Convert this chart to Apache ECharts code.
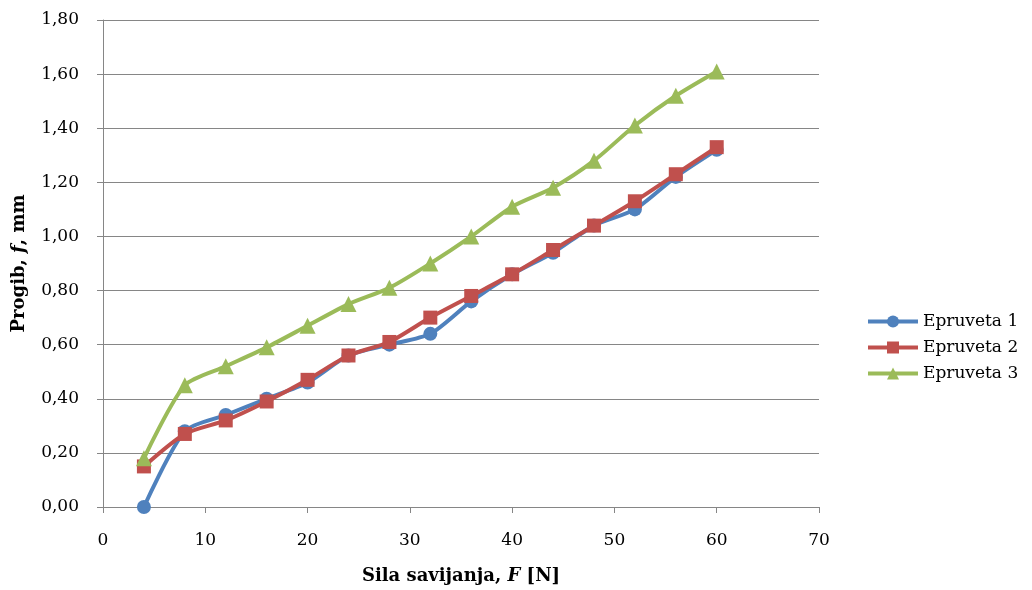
<!DOCTYPE html>
<html><head><meta charset="utf-8">
<script src="https://cdn.jsdelivr.net/npm/echarts@6/dist/echarts.min.js"></script>
<style>html,body{margin:0;padding:0;background:#fff}#c{width:1032px;height:590px}</style>
</head><body><div id="c"></div>
<script>
const force = [4, 8, 12, 16, 20, 24, 28, 32, 36, 40, 44, 48, 52, 56, 60];
const epruveta1 = [0.00, 0.28, 0.34, 0.40, 0.46, 0.56, 0.60, 0.64, 0.76, 0.86, 0.94, 1.04, 1.10, 1.22, 1.32];
const epruveta2 = [0.15, 0.27, 0.32, 0.39, 0.47, 0.56, 0.61, 0.70, 0.78, 0.86, 0.95, 1.04, 1.13, 1.23, 1.33];
const epruveta3 = [0.18, 0.45, 0.52, 0.59, 0.67, 0.75, 0.81, 0.90, 1.00, 1.11, 1.18, 1.28, 1.41, 1.52, 1.61];
const seriesNames = ['Epruveta 1', 'Epruveta 2', 'Epruveta 3'];

const FONT = '"DejaVu Serif", "Liberation Serif", serif';
const pair = arr => force.map((f, i) => [f, arr[i]]);
const colors = ['#4F81BD', '#C0504D', '#9BBB59'];
const symbols = ['circle', 'rect', 'triangle'];
const datas = [epruveta1, epruveta2, epruveta3];

const chart = echarts.init(document.getElementById('c'));
chart.setOption({
  animation: false,
  textStyle: { fontFamily: FONT },
  grid: { left: 103, right: 213, top: 20, bottom: 82 },
  legend: {
    orient: 'vertical', left: 861, top: 308, itemGap: 9,
    itemWidth: 50, itemHeight: 15,
    lineStyle: { width: 4 },
    textStyle: { fontFamily: FONT, fontSize: 17, color: '#000' },
    data: seriesNames
  },
  xAxis: {
    type: 'value', min: 0, max: 70, interval: 10,
    axisLine: { show: true, lineStyle: { color: '#868686', width: 1 } },
    axisTick: { show: true, length: 6, lineStyle: { color: '#868686' } },
    splitLine: { show: false },
    axisLabel: { color: '#000', fontSize: 17, fontFamily: FONT, margin: 25 },
    name: '{b|Sila savijanja, }{bi|F}{b| [N]}',
    nameLocation: 'middle', nameGap: 60,
    nameTextStyle: { rich: {
      b: { fontWeight: 'bold', fontSize: 18, fontFamily: FONT, color: '#000' },
      bi: { fontWeight: 'bold', fontStyle: 'italic', fontSize: 18, fontFamily: FONT, color: '#000' }
    } }
  },
  yAxis: {
    type: 'value', min: 0, max: 1.8, interval: 0.2,
    axisLine: { show: true, lineStyle: { color: '#868686', width: 1 } },
    axisTick: { show: true, length: 6, lineStyle: { color: '#868686' } },
    splitLine: { show: true, lineStyle: { color: '#868686', width: 1 } },
    axisLabel: { color: '#000', fontSize: 17, fontFamily: FONT, margin: 24,
      formatter: v => v.toFixed(2).replace('.', ',') },
    name: '{b|Progib, }{bi|f}{b|, mm}',
    nameLocation: 'middle', nameGap: 75, nameRotate: 90,
    nameTextStyle: { rich: {
      b: { fontWeight: 'bold', fontSize: 18, fontFamily: FONT, color: '#000' },
      bi: { fontWeight: 'bold', fontStyle: 'italic', fontSize: 18, fontFamily: FONT, color: '#000' }
    } }
  },
  series: seriesNames.map((n, i) => ({
    name: n, type: 'line', smooth: 0.25,
    data: pair(datas[i]),
    symbol: symbols[i], symbolSize: i === 2 ? 16 : 14,
    lineStyle: { color: colors[i], width: 4 },
    itemStyle: { color: colors[i] },
    z: 2 + i
  }))
});
</script></body></html>
